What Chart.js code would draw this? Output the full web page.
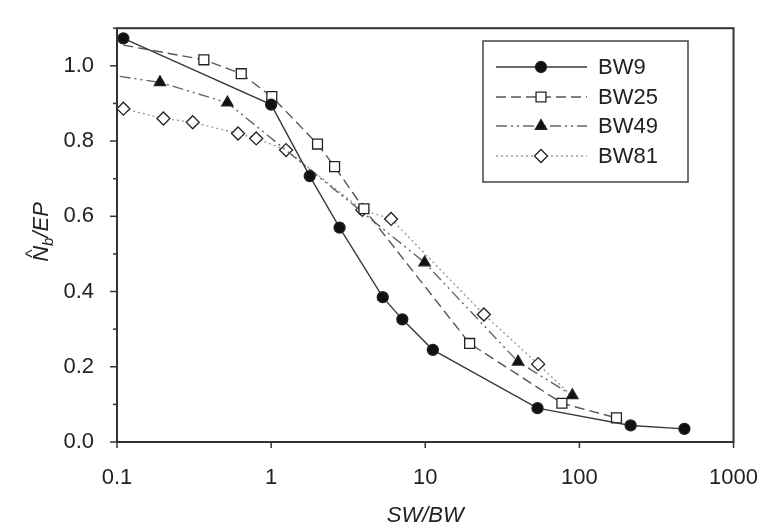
<!DOCTYPE html>
<html>
<head>
<meta charset="utf-8">
<script src="https://cdn.jsdelivr.net/npm/chart.js@4/dist/chart.umd.min.js"></script>
<style>
  html, body { margin: 0; padding: 0; background: #fff; }
  #wrap { width: 773px; height: 531px; }
</style>
</head>
<body>
<div id="wrap"><canvas id="chart" width="773" height="531"></canvas></div>
<script>
const seriesNames = ['BW9', 'BW25', 'BW49', 'BW81'];

const bw9X = [0.11, 1.0, 1.78, 2.78, 5.3, 7.1, 11.2, 53.5, 215, 480];
const bw9Y = [1.073, 0.897, 0.707, 0.570, 0.385, 0.326, 0.245, 0.090, 0.044, 0.035];

const bw25X = [0.11, 0.366, 0.64, 1.01, 2.0, 2.58, 4.0, 19.4, 77, 174];
const bw25Y = [1.055, 1.016, 0.979, 0.918, 0.792, 0.732, 0.620, 0.262, 0.103, 0.064];

const bw49X = [0.104, 0.19, 0.52, 9.9, 40, 90];
const bw49Y = [0.972, 0.956, 0.902, 0.477, 0.213, 0.124];

const bw81X = [0.11, 0.2, 0.31, 0.61, 0.8, 1.25, 3.9, 6.0, 24, 54, 88];
const bw81Y = [0.886, 0.860, 0.850, 0.820, 0.807, 0.776, 0.617, 0.593, 0.339, 0.207, 0.125];

const xTickValues = [0.1, 1, 10, 100, 1000];

const FONT = "'Liberation Sans', Arial, sans-serif";
const TEXT = '#222';

function pts(xs, ys) {
  return xs.map((x, i) => ({ x: x, y: ys[i] }));
}

// first / last points that sit under the axis or another marker carry no symbol
function hideAt(idx, r) {
  return ctx => (idx.includes(ctx.dataIndex) ? 0 : r);
}

const styles = [
  { color: '#3a3a3a', dash: [], point: 'circle', fill: '#111', r: 5.5, hide: [] },
  { color: '#555', dash: [10, 5], point: 'rect', fill: '#fff', r: 7, hide: [0] },
  { color: '#666', dash: [11, 4, 2, 4, 2, 4], point: 'triangle', fill: '#111', r: 6.5, hide: [0] },
  { color: '#9a9a9a', dash: [2, 3], point: 'rectRot', fill: '#fff', r: 6.5, hide: [10] },
];

const allData = [pts(bw9X, bw9Y), pts(bw25X, bw25Y), pts(bw49X, bw49Y), pts(bw81X, bw81Y)];

const datasets = allData.map((d, i) => ({
  label: seriesNames[i],
  data: d,
  showLine: true,
  borderColor: styles[i].color,
  borderWidth: 1.4,
  borderDash: styles[i].dash,
  pointStyle: styles[i].point,
  pointRadius: hideAt(styles[i].hide, styles[i].r),
  pointHoverRadius: hideAt(styles[i].hide, styles[i].r),
  pointBackgroundColor: styles[i].fill,
  pointBorderColor: '#222',
  pointBorderWidth: 1.3,
  tension: 0,
}));

const framePlugin = {
  id: 'frame',
  afterDraw(chart) {
    const c = chart.ctx;
    const a = chart.chartArea;
    const xs = chart.scales.x;
    const ys = chart.scales.y;
    c.save();

    // axis box
    c.strokeStyle = '#333';
    c.lineWidth = 2;
    c.setLineDash([]);
    c.strokeRect(a.left, a.top, a.right - a.left, a.bottom - a.top);

    // y ticks: long on labelled values, short between
    c.lineWidth = 1.5;
    ys.ticks.forEach(t => {
      const py = ys.getPixelForValue(t.value);
      const major = Math.round(t.value * 10) % 2 === 0;
      c.beginPath();
      c.moveTo(a.left - (major ? 7 : 4), py);
      c.lineTo(a.left, py);
      c.stroke();
    });
    // x ticks at decades
    xTickValues.forEach(v => {
      const px = xs.getPixelForValue(v);
      c.beginPath();
      c.moveTo(px, a.bottom);
      c.lineTo(px, a.bottom + 6);
      c.stroke();
    });

    // axis titles
    c.fillStyle = TEXT;
    c.font = 'italic 22px ' + FONT;
    c.textAlign = 'center';
    c.textBaseline = 'middle';
    c.fillText('SW/BW', (a.left + a.right) / 2, 516);

    c.translate(40, 232);
    c.rotate(-Math.PI / 2);
    c.textAlign = 'left';
    c.textBaseline = 'alphabetic';
    const wN = c.measureText('N').width;
    c.font = 'italic 15px ' + FONT;
    const wb = c.measureText('b').width;
    c.font = 'italic 22px ' + FONT;
    const wRest = c.measureText('/EP').width;
    let x0 = -(wN + wb + wRest) / 2;
    c.fillText('N', x0, 8);
    c.font = '18px ' + FONT;
    c.fillText('^', x0 + 4, -2);
    c.font = 'italic 15px ' + FONT;
    c.fillText('b', x0 + wN, 13);
    c.font = 'italic 22px ' + FONT;
    c.fillText('/EP', x0 + wN + wb, 8);
    c.restore();

    // legend
    c.save();
    const bx = 483, by = 41, bw = 205, bh = 141;
    c.fillStyle = '#fff';
    c.fillRect(bx, by, bw, bh);
    c.strokeStyle = '#444';
    c.lineWidth = 1.5;
    c.strokeRect(bx, by, bw, bh);
    const rows = [67, 97, 126, 156];
    seriesNames.forEach((name, i) => {
      const s = styles[i];
      const y = rows[i];
      c.strokeStyle = s.color;
      c.lineWidth = 1.4;
      c.setLineDash(s.dash);
      c.beginPath();
      c.moveTo(496, y);
      c.lineTo(587, y);
      c.stroke();
      c.setLineDash([]);
      c.fillStyle = s.fill;
      c.strokeStyle = '#222';
      c.lineWidth = 1.3;
      Chart.helpers.drawPoint(c, { pointStyle: s.point, radius: s.r, rotation: 0, borderWidth: 1.3 }, 541, y);
      c.fillStyle = TEXT;
      c.font = '22px ' + FONT;
      c.textAlign = 'left';
      c.textBaseline = 'middle';
      c.fillText(name, 598, y + 1);
    });
    c.restore();
  }
};

new Chart(document.getElementById('chart'), {
  type: 'scatter',
  data: { datasets: datasets },
  options: {
    responsive: false,
    animation: false,
    layout: { padding: { left: 0, top: 4, right: 31, bottom: 0 } },
    plugins: {
      legend: { display: false },
      tooltip: { enabled: false },
    },
    scales: {
      x: {
        type: 'logarithmic',
        min: 0.1,
        max: 1000,
        border: { display: false },
        grid: { display: false },
        afterFit(scale) { scale.height = 89; },
        ticks: {
          autoSkip: false,
          maxRotation: 0,
          padding: 15,
          color: TEXT,
          font: { family: FONT, size: 22 },
          callback: v => (xTickValues.some(t => Math.abs(t - v) / t < 1e-6) ? String(v) : ''),
        },
      },
      y: {
        min: 0,
        max: 1.1,
        border: { display: false },
        grid: { display: false },
        afterFit(scale) { scale.width = 117; },
        ticks: {
          stepSize: 0.1,
          autoSkip: false,
          padding: 15,
          color: TEXT,
          font: { family: FONT, size: 22 },
          callback: v => (Math.round(v * 10) % 2 === 0 && v < 1.05 ? v.toFixed(1) : ''),
        },
      },
    },
  },
  plugins: [framePlugin],
});
</script>
</body>
</html>
